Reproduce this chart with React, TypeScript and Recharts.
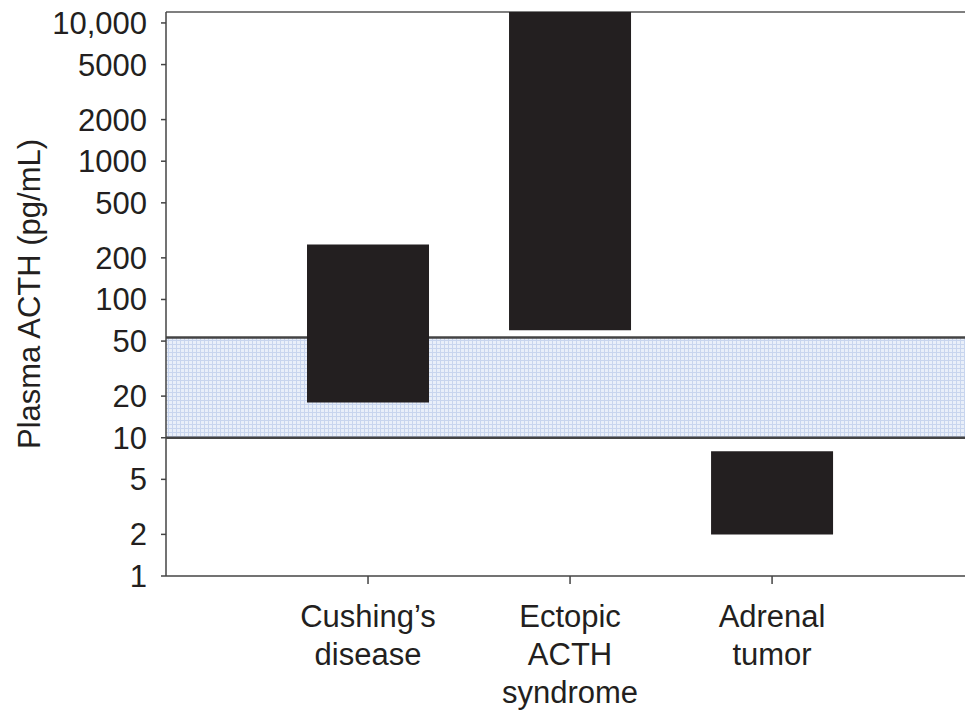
import React from 'react';
import {
  BarChart,
  Bar,
  XAxis,
  YAxis,
  ReferenceArea,
  ReferenceLine,
} from 'recharts';

const categories = ['Cushing’s disease', 'Ectopic ACTH syndrome', 'Adrenal tumor'];
const categoryPositions = [1, 2, 3];
const lowValues = [18, 60, 2];
const highValues = [250, 12000, 8];
const yTicks = [1, 2, 5, 10, 20, 50, 100, 200, 500, 1000, 2000, 5000, 10000];
const normalRange = [10, 53];
const yMax = 12000;

const data = categories.map((name, i) => ({
  x: categoryPositions[i],
  name,
  range: [lowValues[i], highValues[i]],
}));

const FONT = '"Liberation Sans", Arial, Helvetica, sans-serif';
const INK = '#231f20';

const CategoryTick = (props: any) => {
  const { x, y, payload } = props;
  const idx = categoryPositions.indexOf(payload.value);
  if (idx < 0) return null;
  const lines = categories[idx].split(' ');
  return (
    <text
      x={x}
      y={y}
      textAnchor="middle"
      fill={INK}
      fontSize={31}
      fontFamily={FONT}
    >
      {lines.map((line, i) => (
        <tspan key={i} x={x} dy={i === 0 ? 41 : 38}>
          {line}
        </tspan>
      ))}
    </text>
  );
};

export default function App() {
  return (
    <div style={{ position: 'absolute', left: 0, top: 0, width: 965, height: 711, background: '#fff' }}>
      <BarChart
        width={965}
        height={711}
        data={data}
        margin={{ top: 12, right: 0, bottom: 0, left: 0 }}
        barSize={122}
      >
        <defs>
          <pattern id="band" width="4" height="4" patternUnits="userSpaceOnUse">
            <rect width="4" height="4" fill="#e9eff9" />
            <path d="M0 0.5H4M0.5 0V4" stroke="#c8d5ee" strokeWidth="1" />
          </pattern>
        </defs>
        <ReferenceArea
          y1={normalRange[0]}
          y2={normalRange[1]}
          fill="url(#band)"
          fillOpacity={1}
          stroke="none"
          ifOverflow="hidden"
          zIndex={-20}
        />
        <ReferenceLine y={normalRange[0]} stroke="#444" strokeWidth={2.5} zIndex={-10} />
        <ReferenceLine y={normalRange[1]} stroke="#444" strokeWidth={2.5} zIndex={-10} />
        <ReferenceLine y={yMax} stroke="#555" strokeWidth={1.5} zIndex={-10} />
        <XAxis
          dataKey="x"
          type="number"
          domain={[0, 3.955]}
          ticks={categoryPositions}
          allowDataOverflow
          height={135}
          tickSize={8}
          tickMargin={2}
          interval={0}
          tick={<CategoryTick />}
          axisLine={{ stroke: '#444', strokeWidth: 1.5 }}
          tickLine={{ stroke: '#444', strokeWidth: 1.5 }}
        />
        <YAxis
          scale="log"
          domain={[1, yMax]}
          allowDataOverflow
          ticks={yTicks}
          interval={0}
          width={166}
          tickSize={5}
          tickMargin={14}
          tickFormatter={(v: number) => (v >= 10000 ? v.toLocaleString('en-US') : String(v))}
          tick={{ fill: INK, fontSize: 31, fontFamily: FONT }}
          axisLine={{ stroke: '#444', strokeWidth: 1.5 }}
          tickLine={{ stroke: '#444', strokeWidth: 1.5 }}
          label={{
            value: 'Plasma ACTH (pg/mL)',
            angle: -90,
            position: 'insideLeft',
            offset: 29,
            style: { textAnchor: 'middle', fill: INK, fontSize: 31, fontFamily: FONT },
          }}
        />
        <Bar dataKey="range" fill={INK} isAnimationActive={false} />
      </BarChart>
    </div>
  );
}
